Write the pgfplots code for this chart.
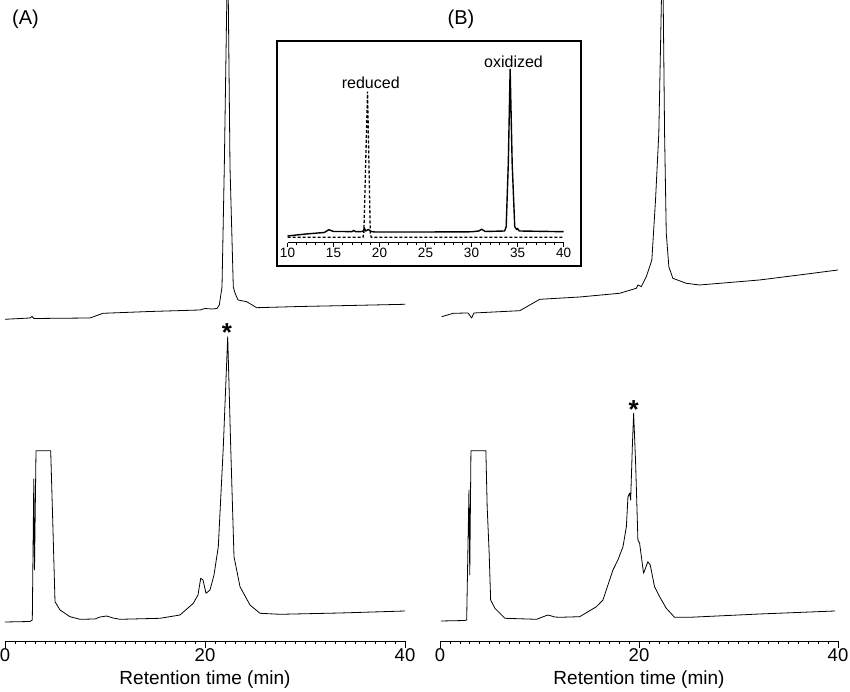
\documentclass[border=0pt]{standalone}
\usepackage{fontspec}
\setmainfont{Liberation Sans}
\usepackage{pgfplots}
\pgfplotsset{compat=1.18}
\begin{document}
\begin{tikzpicture}[x=1pt,y=1pt]
\path[use as bounding box] (0,0) rectangle (850,692);
\pgfplotsset{
  chrom/.style={
    scale only axis, height=641pt,
    xmin=0, xmax=40, ymin=0, ymax=641,
    axis x line=bottom, axis y line=none,
    axis line style={-, line width=0.8pt},
    xtick={0,20,40}, minor xtick={0,1,...,40},
    tick align=outside,
    major tick length=7pt, minor tick length=3.5pt,
    tick style={line width=0.8pt, black},
    /pgf/number format/assume math mode=true,
    xticklabel style={font=\fontsize{18.5}{18.5}\selectfont, inner sep=0pt, anchor=north},
    xlabel={Retention time (min)},
    xlabel style={font=\fontsize{19}{19}\selectfont, at={(axis description cs:0.5,0)}, anchor=base, inner sep=0pt, yshift=-44pt},
  },
  tr/.style={black, line width=0.8pt, line join=round, mark=none},
}
% Panel A
\begin{axis}[chrom, width=400pt, at={(5pt,51pt)}, anchor=south west]
\addplot[tr] coordinates {(0,321.7) (2.5,323) (2.7,324.5) (2.9,322.5) (8.5,323) (9.8,327.7) (14.5,329.5) (19.5,331) (20.0,332.5) (20.7,332) (21.2,332.5) (21.43,336) (21.7,354) (21.93,474) (22.27,700) (22.5,474) (22.83,354) (23.0,348) (23.3,341) (24.17,339.3) (25.17,333.3) (29.5,334.5) (34.5,335.5) (40,336.7)};
\addplot[tr] coordinates {(0,19) (2.5,19.5) (2.73,21) (2.88,162) (2.95,71) (3.1,190.3) (4.57,190.3) (4.8,111) (5.0,39.3) (5.5,31) (6.5,24.3) (7.5,21.7) (9.0,22) (9.5,24) (10.17,25) (10.8,23) (11.5,21.7) (15.5,22.7) (17.5,26) (18.83,37.7) (19.3,46) (19.57,62.7) (19.8,61) (20.1,47.7) (20.5,51) (20.9,66) (21.33,94.3) (21.83,194.3) (22.27,304.3) (22.57,194.3) (22.9,84.3) (23.5,54.3) (24.5,36) (25.5,27.7) (27.5,26.7) (33.5,28) (40,30)};
\node[anchor=north, inner sep=0pt, font=\bfseries\fontsize{26}{26}\selectfont] at (axis cs:22.2,318) {*};
\end{axis}
% Panel B
\begin{axis}[chrom, width=398pt, at={(440pt,51pt)}, anchor=south west]
\addplot[tr] coordinates {(0.17,324.3) (1.33,327.7) (2.81,328) (3.18,323) (3.41,328) (8.02,330.3) (10.03,341.7) (14.04,344) (18.05,347.7) (19.73,352.7) (19.89,356) (20.23,354.3) (20.73,364.3) (21.29,381) (21.66,441) (21.99,507.7) (22.37,700) (22.57,507.7) (22.74,407.7) (23.0,374.3) (23.4,362.7) (24.74,357.7) (26.08,356) (32.1,361) (36.1,366) (40,371)};
\addplot[tr] coordinates {(0.1,20) (2.5,20.5) (2.68,21) (2.91,151) (2.99,66) (3.11,190.3) (4.61,190.3) (4.74,134.3) (4.94,88) (5.09,41) (5.52,32.7) (6.52,22.7) (9.7,21.7) (10.43,24.5) (10.86,26) (11.53,24) (12.04,23.7) (14.04,24.3) (15.72,34.3) (16.38,41) (17.38,71) (17.88,81) (18.39,94.3) (18.73,114.3) (18.89,144.3) (19.06,147.7) (19.16,141) (19.33,194.3) (19.46,227.7) (19.66,177.7) (19.89,101) (20.06,97.7) (20.46,67.7) (20.89,79.3) (21.13,76) (21.56,54.3) (22.07,44.3) (22.74,32.7) (23.57,23.7) (25.08,23.7) (32.1,27) (39.7,30)};
\node[anchor=north, inner sep=0pt, font=\bfseries\fontsize{26}{26}\selectfont] at (axis cs:19.46,241) {*};
\end{axis}
% Inset
\draw[line width=1.3pt] (277,426) rectangle (581,651);
\begin{axis}[scale only axis, width=276pt, height=200pt, at={(287.5pt,449pt)}, anchor=south west,
    xmin=10, xmax=40, ymin=0, ymax=200, clip=false,
    axis x line=bottom, axis y line=none,
    axis line style={-, line width=1pt},
    xtick={10,15,...,40}, minor xtick={10,11,...,40},
    tick align=outside, major tick length=4pt, minor tick length=2.5pt,
    tick style={line width=0.8pt, black},
    /pgf/number format/assume math mode=true,
    xticklabel style={font=\fontsize{13.5}{13.5}\selectfont, inner sep=0pt, anchor=north, yshift=-1pt}]
\addplot[black, line width=1.4pt, line join=round, mark=none] coordinates {(10,7) (12,9) (14,10.5) (14.5,13.3) (15,11.5) (16,11.5) (17,11.3) (17.2,12.5) (17.4,11.3) (18.2,11.5) (18.35,15) (18.5,12) (18.8,13.5) (19.1,11.5) (19.5,11) (25,11) (30,11.2) (30.8,12) (31.1,13.7) (31.5,11.5) (33.6,12) (33.77,16.3) (34.0,79.7) (34.2,173.7) (34.42,79.7) (34.7,16.3) (34.9,13.5) (35.0,14.5) (35.2,12) (40,11.3)};
\addplot[black, mark=none, dash pattern=on 3pt off 2pt, line width=1.3pt] coordinates {(10,5.7) (18.2,5.7) (18.3,10) (18.7,151.3) (19.0,10) (19.1,5.7) (40,5.7)};
\node[font=\fontsize{16}{16}\selectfont] at (axis cs:19.05,160.3) {reduced};
\node[font=\fontsize{16}{16}\selectfont] at (axis cs:34.57,181.3) {oxidized};
\end{axis}
\node[font=\fontsize{20}{20}\selectfont] at (25.5,673) {(A)};
\node[font=\fontsize{20}{20}\selectfont] at (461,673) {(B)};
\end{tikzpicture}
\end{document}
